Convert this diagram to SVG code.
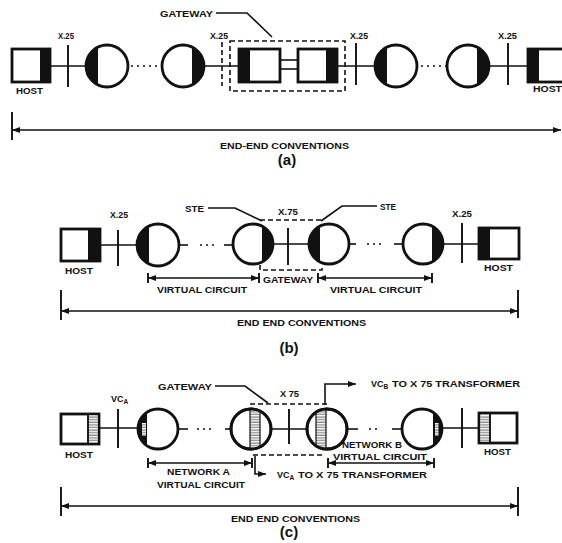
<svg xmlns="http://www.w3.org/2000/svg" width="562" height="543" viewBox="0 0 562 543">
<style>
.bg{fill:#fff}
.box{fill:#fff;stroke:#111;stroke-width:2.8}
.dk{fill:#111}
.nd{fill:#fff;stroke:#111;stroke-width:2.8}
.ln{stroke:#111;stroke-width:1.6;fill:none}
.tk{stroke:#111;stroke-width:1.9;fill:none}
.ds{stroke:#111;stroke-width:1.6;fill:none;stroke-dasharray:5 3}
.dot{stroke:#111;stroke-width:1.7;fill:none;stroke-dasharray:2 4}
.dim{stroke:#111;stroke-width:1.5;fill:none;marker-start:url(#ar);marker-end:url(#ar)}
.t{font-family:"Liberation Sans",Arial,sans-serif;font-weight:bold;font-size:9px;fill:#111}
.p{font-family:"Liberation Sans",Arial,sans-serif;font-weight:bold;font-size:15px;fill:#111;text-anchor:middle}
.band{fill:url(#hatch);stroke:#111;stroke-width:1.2}
</style>
<defs>
<marker id="ar" viewBox="0 0 8 6" refX="8" refY="3" markerWidth="8" markerHeight="6" markerUnits="userSpaceOnUse" orient="auto-start-reverse">
<path d="M0,0 L8,3 L0,6 z" fill="#111"/>
</marker>
<pattern id="hatch" width="4" height="2.6" patternUnits="userSpaceOnUse">
<rect width="4" height="2.6" fill="#fff"/>
<line x1="0" y1="1" x2="4" y2="1" stroke="#555" stroke-width="0.9"/>
</pattern>
<clipPath id="cc2"><circle cx="251" cy="429" r="20"/></clipPath>
<clipPath id="cc3"><circle cx="327" cy="429" r="20"/></clipPath>
</defs>
<rect class="bg" x="0" y="0" width="562" height="543"/>

<!-- ===== (a) ===== -->
<g id="connectors-a">
<line class="ln" x1="50" y1="66" x2="87" y2="66"/>
<line class="tk" x1="68" y1="45" x2="68" y2="87"/>
<line class="dot" x1="131" y1="66" x2="161" y2="66"/>
<line class="ln" x1="204" y1="66" x2="239" y2="66"/>
<line class="ds" x1="222" y1="42" x2="222" y2="86"/>
<line class="ln" x1="280" y1="60" x2="298" y2="60"/>
<line class="ln" x1="280" y1="69" x2="298" y2="69"/>
<line class="ln" x1="337" y1="66" x2="375" y2="66"/>
<line class="tk" x1="356" y1="43" x2="356" y2="85"/>
<line class="dot" x1="421" y1="66" x2="446" y2="66"/>
<line class="ln" x1="489" y1="66" x2="528" y2="66"/>
<line class="tk" x1="508" y1="43" x2="508" y2="85"/>
<polyline class="ln" points="216,13 247,13 272,37"/>
<line class="tk" x1="12" y1="112" x2="12" y2="140"/>
<line class="dim" x1="12" y1="130" x2="561" y2="130"/>
</g>
<g id="host-a1"><rect class="box" x="12" y="49" width="38" height="33"/><rect class="dk" x="40" y="49" width="10" height="33"/></g>
<g id="node-a1"><circle class="nd" cx="107" cy="66" r="21"/><path class="dk" d="M98,47 A21,21 0 0 0 98,85 Z"/></g>
<g id="node-a2"><circle class="nd" cx="183" cy="66" r="21"/><path class="dk" d="M192,47 A21,21 0 0 1 192,85 Z"/></g>
<g id="gateway-a">
<rect class="ds" x="230" y="41" width="115" height="50"/>
<rect class="box" x="239" y="49" width="41" height="33"/><rect class="dk" x="239" y="49" width="11" height="33"/>
<rect class="box" x="298" y="49" width="39" height="33"/><rect class="dk" x="326" y="49" width="11" height="33"/>
</g>
<g id="node-a3"><circle class="nd" cx="396" cy="66" r="21"/><path class="dk" d="M387,47 A21,21 0 0 0 387,85 Z"/></g>
<g id="node-a4"><circle class="nd" cx="468" cy="66" r="21"/><path class="dk" d="M477,47 A21,21 0 0 1 477,85 Z"/></g>
<g id="host-a2"><rect class="box" x="528" y="49" width="44" height="33"/><rect class="dk" x="528" y="49" width="11" height="33"/></g>
<g id="labels-a">
<text class="t" x="160" y="17" textLength="53" lengthAdjust="spacingAndGlyphs">GATEWAY</text>
<text class="t" x="58" y="39" textLength="16" lengthAdjust="spacingAndGlyphs">X.25</text>
<text class="t" x="210" y="39" textLength="18" lengthAdjust="spacingAndGlyphs">X.25</text>
<text class="t" x="350" y="39" textLength="18" lengthAdjust="spacingAndGlyphs">X.25</text>
<text class="t" x="498" y="39" textLength="19" lengthAdjust="spacingAndGlyphs">X.25</text>
<text class="t" x="16" y="94" textLength="27" lengthAdjust="spacingAndGlyphs">HOST</text>
<text class="t" x="533" y="92" textLength="29" lengthAdjust="spacingAndGlyphs">HOST</text>
<text class="t" x="220" y="149" textLength="129" lengthAdjust="spacingAndGlyphs">END-END CONVENTIONS</text>
<text class="p" x="287" y="165">(a)</text>
</g>

<!-- ===== (b) ===== -->
<g id="connectors-b">
<line class="ln" x1="100" y1="245" x2="137" y2="245"/>
<line class="tk" x1="118" y1="230" x2="118" y2="266"/>
<line class="ln" x1="179" y1="245" x2="188" y2="245"/>
<line class="dot" x1="200" y1="245" x2="214" y2="245"/>
<line class="ln" x1="224" y1="245" x2="233" y2="245"/>
<line class="ln" x1="273" y1="244" x2="309" y2="244"/>
<line class="tk" x1="288" y1="228" x2="288" y2="265"/>
<line class="ln" x1="349" y1="244" x2="356" y2="244"/>
<line class="dot" x1="367" y1="244" x2="381" y2="244"/>
<line class="ln" x1="394" y1="244" x2="403" y2="244"/>
<line class="ln" x1="444" y1="244" x2="479" y2="244"/>
<line class="tk" x1="462" y1="223" x2="462" y2="263"/>
<polyline class="ln" points="208,208 235,208 262,221"/>
<polyline class="ln" points="377,206 342,206 321,221"/>
<line class="tk" x1="148" y1="273" x2="148" y2="283"/>
<line class="tk" x1="259" y1="273" x2="259" y2="283"/>
<line class="dim" x1="148" y1="278" x2="259" y2="278"/>
<line class="tk" x1="318" y1="273" x2="318" y2="283"/>
<line class="tk" x1="432" y1="273" x2="432" y2="283"/>
<line class="dim" x1="318" y1="278" x2="432" y2="278"/>
<line class="tk" x1="61" y1="290" x2="61" y2="320"/>
<line class="tk" x1="518" y1="290" x2="518" y2="318"/>
<line class="dim" x1="61" y1="311" x2="518" y2="311"/>
</g>
<g id="host-b1"><rect class="box" x="61" y="229" width="39" height="32"/><rect class="dk" x="88" y="229" width="12" height="32"/></g>
<g id="node-b1"><circle class="nd" cx="158" cy="245" r="21"/><path class="dk" d="M149,226 A21,21 0 0 0 149,264 Z"/></g>
<g id="node-b2"><circle class="nd" cx="253" cy="244" r="20"/><path class="dk" d="M262,226.2 A20,20 0 0 1 262,261.8 Z"/></g>
<g id="gateway-b">
<line class="ds" x1="260" y1="220" x2="322" y2="220"/>
<polyline class="ds" points="260,265 260,270 322,270 322,265"/>
</g>
<g id="node-b3"><circle class="nd" cx="329" cy="244" r="20"/><path class="dk" d="M320,226.2 A20,20 0 0 0 320,261.8 Z"/></g>
<g id="node-b4"><circle class="nd" cx="423" cy="244" r="20"/><path class="dk" d="M432,226.2 A20,20 0 0 1 432,261.8 Z"/></g>
<g id="host-b2"><rect class="box" x="479" y="228" width="40" height="31"/><rect class="dk" x="479" y="228" width="11" height="31"/></g>
<g id="labels-b">
<text class="t" x="110" y="218" textLength="18" lengthAdjust="spacingAndGlyphs">X.25</text>
<text class="t" x="185" y="212" textLength="19" lengthAdjust="spacingAndGlyphs">STE</text>
<text class="t" x="278" y="215" textLength="20" lengthAdjust="spacingAndGlyphs">X.75</text>
<text class="t" x="380" y="210" textLength="16" lengthAdjust="spacingAndGlyphs">STE</text>
<text class="t" x="452" y="217" textLength="20" lengthAdjust="spacingAndGlyphs">X.25</text>
<text class="t" x="65" y="274" textLength="28" lengthAdjust="spacingAndGlyphs">HOST</text>
<text class="t" x="484" y="271" textLength="29" lengthAdjust="spacingAndGlyphs">HOST</text>
<text class="t" x="157" y="293" textLength="90" lengthAdjust="spacingAndGlyphs">VIRTUAL CIRCUIT</text>
<text class="t" x="263" y="283" textLength="50" lengthAdjust="spacingAndGlyphs">GATEWAY</text>
<text class="t" x="330" y="293" textLength="92" lengthAdjust="spacingAndGlyphs">VIRTUAL CIRCUIT</text>
<text class="t" x="237" y="326" textLength="129" lengthAdjust="spacingAndGlyphs">END END CONVENTIONS</text>
<text class="p" x="289" y="353">(b)</text>
</g>

<!-- ===== (c) ===== -->
<g id="connectors-c">
<line class="ln" x1="99" y1="428" x2="138" y2="428"/>
<line class="tk" x1="118" y1="409" x2="118" y2="448"/>
<line class="ln" x1="178" y1="429" x2="188" y2="429"/>
<line class="dot" x1="197" y1="429" x2="211" y2="429"/>
<line class="ln" x1="225" y1="429" x2="232" y2="429"/>
<line class="ln" x1="271" y1="429" x2="307" y2="429"/>
<line class="tk" x1="289" y1="409" x2="289" y2="444"/>
<line class="ln" x1="347" y1="429" x2="358" y2="429"/>
<line class="dot" x1="369" y1="429" x2="381" y2="429"/>
<line class="ln" x1="392" y1="429" x2="402" y2="429"/>
<line class="ln" x1="442" y1="428" x2="479" y2="428"/>
<line class="tk" x1="462" y1="408" x2="462" y2="448"/>
<polyline class="ln" points="215,386 245,386 268,403"/>
<polyline class="ln" points="325,405 325,384 356,384" marker-end="url(#ar)"/>
<polyline class="ln" points="255,456 255,474 266,474" marker-end="url(#ar)"/>
<line class="tk" x1="148" y1="458" x2="148" y2="468"/>
<line class="tk" x1="252" y1="458" x2="252" y2="468"/>
<line class="dim" x1="148" y1="463" x2="252" y2="463"/>
<line class="tk" x1="328" y1="458" x2="328" y2="468"/>
<line class="tk" x1="434" y1="458" x2="434" y2="468"/>
<line class="dim" x1="328" y1="463" x2="434" y2="463"/>
<line class="tk" x1="61" y1="487" x2="61" y2="516"/>
<line class="tk" x1="518" y1="487" x2="518" y2="516"/>
<line class="dim" x1="61" y1="506" x2="518" y2="506"/>
</g>
<g id="host-c1"><rect class="box" x="61" y="414" width="38" height="30"/><rect x="89" y="415.5" width="8.5" height="27" fill="url(#hatch)"/><line class="tk" x1="88" y1="414" x2="88" y2="444"/></g>
<g id="node-c1"><circle class="nd" cx="158" cy="429" r="20"/><path class="dk" d="M147,412.3 A20,20 0 0 0 147,445.7 Z"/><rect x="142" y="423" width="4" height="13" fill="url(#hatch)"/></g>
<g id="node-c2"><circle class="nd" cx="251" cy="429" r="20"/><rect class="band" x="250" y="405" width="10" height="48" clip-path="url(#cc2)"/><circle cx="251" cy="429" r="20" fill="none" stroke="#111" stroke-width="2.8"/></g>
<g id="gateway-c">
<line class="ds" x1="250" y1="404" x2="327" y2="404"/>
<line class="ds" x1="253" y1="455" x2="325" y2="455"/>
</g>
<g id="node-c3"><circle class="nd" cx="327" cy="429" r="20"/><rect class="band" x="316" y="405" width="10" height="48" clip-path="url(#cc3)"/><circle cx="327" cy="429" r="20" fill="none" stroke="#111" stroke-width="2.8"/></g>
<g id="node-c4"><circle class="nd" cx="422" cy="429" r="20"/><path class="dk" d="M433,412.3 A20,20 0 0 1 433,445.7 Z"/><rect x="435" y="423" width="3.5" height="13" fill="url(#hatch)"/></g>
<g id="host-c2"><rect class="box" x="479" y="413" width="38" height="30"/><rect x="480.5" y="414.5" width="9" height="27" fill="url(#hatch)"/><line class="tk" x1="490" y1="413" x2="490" y2="443"/></g>
<g id="labels-c">
<text class="t" x="111" y="402">VC<tspan font-size="6.5" dy="2">A</tspan></text>
<text class="t" x="158" y="390" textLength="54" lengthAdjust="spacingAndGlyphs">GATEWAY</text>
<text class="t" x="280" y="397" textLength="19" lengthAdjust="spacingAndGlyphs">X 75</text>
<text class="t" x="371" y="387">VC<tspan font-size="6.5" dy="2">B</tspan><tspan x="392" dy="-2" textLength="128" lengthAdjust="spacingAndGlyphs">TO X 75 TRANSFORMER</tspan></text>
<text class="t" x="65" y="458" textLength="28" lengthAdjust="spacingAndGlyphs">HOST</text>
<text class="t" x="484" y="455" textLength="27" lengthAdjust="spacingAndGlyphs">HOST</text>
<text class="t" x="167" y="475" textLength="63" lengthAdjust="spacingAndGlyphs">NETWORK A</text>
<text class="t" x="157" y="488" textLength="88" lengthAdjust="spacingAndGlyphs">VIRTUAL CIRCUIT</text>
<text class="t" x="277" y="478">VC<tspan font-size="6.5" dy="2">A</tspan><tspan x="298" dy="-2" textLength="129" lengthAdjust="spacingAndGlyphs">TO X 75 TRANSFORMER</tspan></text>
<text class="t" x="342" y="448" textLength="60" lengthAdjust="spacingAndGlyphs">NETWORK B</text>
<text class="t" x="333" y="460" textLength="94" lengthAdjust="spacingAndGlyphs">VIRTUAL CIRCUIT</text>
<text class="t" x="231" y="522" textLength="129" lengthAdjust="spacingAndGlyphs">END END CONVENTIONS</text>
<text class="p" x="289" y="537">(c)</text>
</g>
</svg>
